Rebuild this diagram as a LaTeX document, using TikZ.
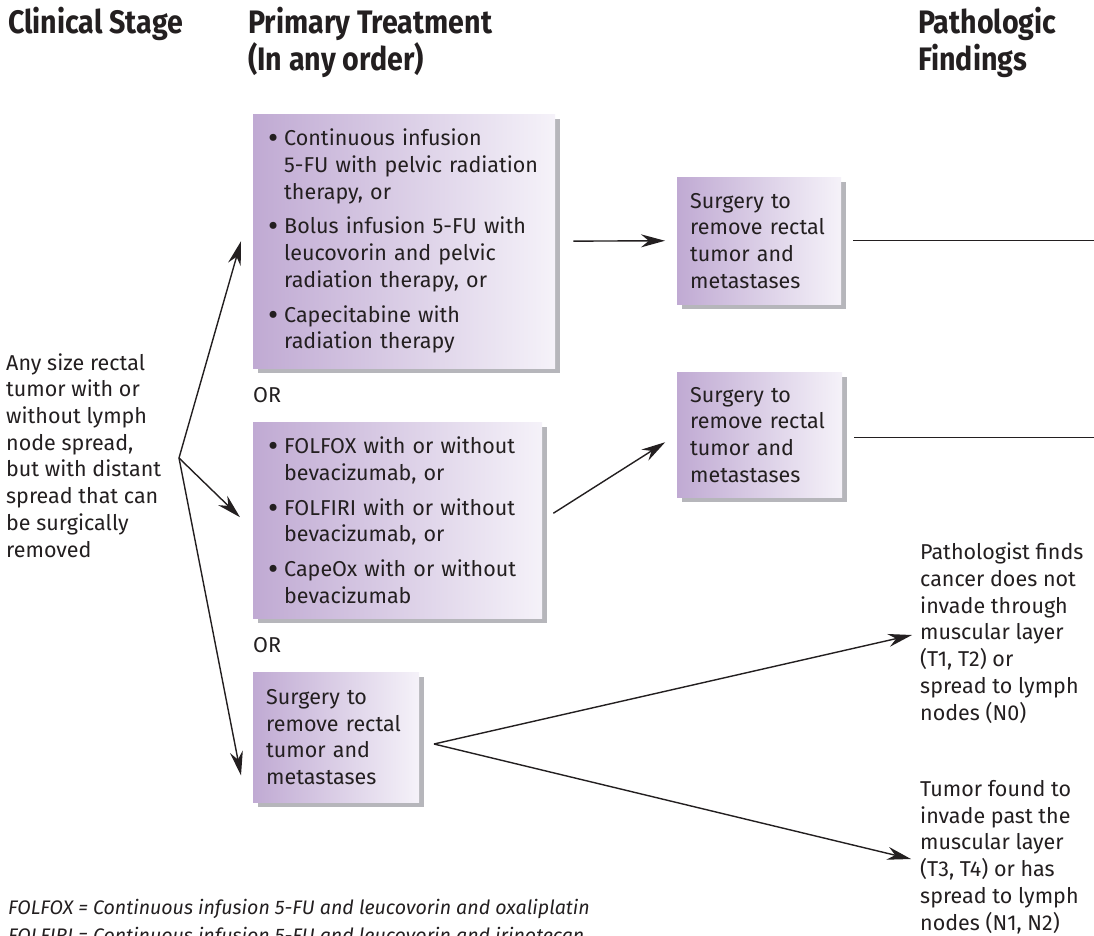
\documentclass[tikz,border=0pt]{standalone}
\usepackage{fontspec}
\setmainfont{Fira Sans}
\newfontfamily\headfont{Fira Sans}[FakeStretch=0.88]
\usetikzlibrary{arrows.meta,calc,shadows}

\definecolor{ink}{RGB}{35,31,32}
\definecolor{boxL}{RGB}{192,170,211}
\definecolor{boxR}{RGB}{245,242,249}
\definecolor{shade}{RGB}{182,182,187}

\newcommand{\bodysize}{\fontsize{21.5}{26.7}\selectfont}
\newcommand{\headsize}{\fontsize{32.5}{37}\selectfont}
\newcommand{\notesize}{\fontsize{19.6}{28}\selectfont}
\newcommand{\bul}{\makebox[16pt][l]{\raisebox{-0.14em}{\scalebox{1.45}{\textbullet}}}}
\newcommand{\ind}{\hspace*{16pt}}

\tikzset{
  txt/.style={inner sep=0pt, align=left, font=\bodysize, text=ink, anchor=base west},
  head/.style={inner sep=0pt, align=left, font=\headfont\bfseries\headsize, text=ink, anchor=base west},
  note/.style={inner sep=0pt, align=left, font=\notesize\itshape, text=ink, anchor=base west},
  panel/.style={anchor=north west, inner ysep=0pt, align=left, font=\bodysize, text=ink,
    left color=boxL, right color=boxR,
    drop shadow={shadow xshift=5pt, shadow yshift=-5pt, fill=shade, opacity=1}},
  arr/.style={line width=1.4pt, draw=ink, -{Stealth[length=24pt,width=13pt]}},
  link/.style={line width=1.4pt, draw=ink}
}

\begin{document}
\begin{tikzpicture}[x=1pt,y=-1pt]
\useasboundingbox[fill=white] (0,0) rectangle (1094,935);

% column headings (base anchor sits on the last line)
\node[head] (hstage) at (8,33) {Clinical Stage};
\node[head] (htreat) at (248,70) {Primary Treatment\\(In any order)};
\node[head] (hpath) at (918,70) {Pathologic\\Findings};

% clinical stage
\node[txt] (stage) at (6,557) {Any size rectal\\tumor with or\\without lymph\\node spread,\\but with distant\\spread that can\\be surgically\\removed};

% primary treatment options
\node[panel, inner xsep=15pt, text width=272pt, minimum height=254pt] (b1) at (253,114)
  {\bul Continuous infusion\\\ind 5-FU with pelvic radiation\\\ind therapy, or\\[8pt]
   \bul Bolus infusion 5-FU with\\\ind leucovorin and pelvic\\\ind radiation therapy, or\\[8pt]
   \bul Capecitabine with\\\ind radiation therapy};
\node[txt] (or1) at (253,402) {OR};
\node[panel, inner xsep=15pt, text width=259pt, minimum height=196pt] (b2) at (253,422)
  {\bul FOLFOX with or without\\\ind bevacizumab, or\\[8pt]
   \bul FOLFIRI with or without\\\ind bevacizumab, or\\[8pt]
   \bul CapeOx with or without\\\ind bevacizumab};
\node[txt] (or2) at (253,652) {OR};
\node[panel, inner xsep=13pt, text width=140pt, minimum height=130pt] (b3) at (253,672)
  {Surgery to\\remove rectal\\tumor and\\metastases};

% surgery after preoperative therapy
\node[panel, inner xsep=13pt, text width=138pt, minimum height=127pt] (sA) at (677,177)
  {Surgery to\\remove rectal\\tumor and\\metastases};
\node[panel, inner xsep=13pt, text width=139pt, minimum height=125pt] (sB) at (677,372)
  {Surgery to\\remove rectal\\tumor and\\metastases};

% pathologic findings
\node[txt] (f1) at (920,720) {Pathologist finds\\cancer does not\\invade through\\muscular layer\\(T1, T2) or\\spread to lymph\\nodes (N0)};
\node[txt] (f2) at (920,930) {Tumor found to\\invade past the\\muscular layer\\(T3, T4) or has\\spread to lymph\\nodes (N1, N2)};

% abbreviations
\node[note] (n1) at (8,942) {FOLFOX = Continuous infusion 5-FU and leucovorin and oxaliplatin\\FOLFIRI = Continuous infusion 5-FU and leucovorin and irinotecan};

% connectors
\coordinate (fork) at (179,458);
\coordinate (fork2) at (434,744);
\coordinate (edge) at (1094,0);
\coordinate (p1) at (912,635);
\coordinate (p2) at (911,859);

\draw[arr] (fork) -- ([xshift=-12pt]b1.west);
\draw[arr] (fork) -- ([xshift=-13pt,yshift=3pt]b2.west);
\draw[arr] (fork) -- ([xshift=-12pt,yshift=27pt]b3.south west);

\draw[arr, shorten <=18pt, shorten >=12pt] (b1.east) -- (sA.west);
\draw[arr, shorten <=13pt, shorten >=14pt] (b2.east) -- (sB.west);

\draw[link, shorten <=12pt] (sA.east) -- (sA.east -| edge);
\draw[link, shorten <=12pt] ([yshift=-2.5pt]sB.east) -- ([yshift=-2.5pt]sB.east -| edge);

\draw[arr] (fork2) -- (p1);
\draw[arr] (fork2) -- (p2);
\end{tikzpicture}
\end{document}
